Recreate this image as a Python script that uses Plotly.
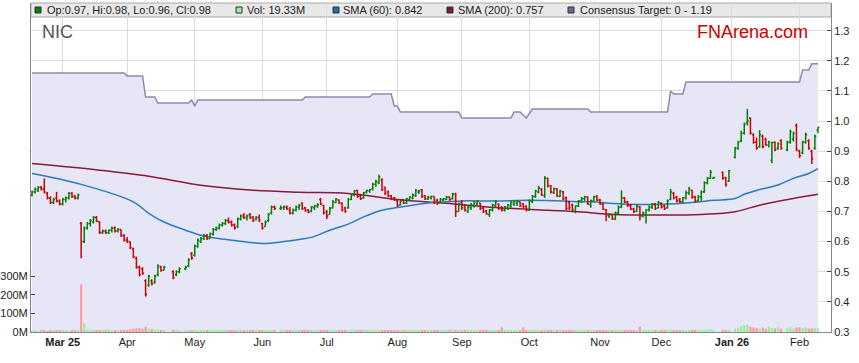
import pandas as pd
import plotly.graph_objects as go

# ---------------- data ----------------
holidays = ["2025-04-18", "2025-04-21", "2025-04-25", "2025-06-09",
            "2025-12-25", "2025-12-26", "2026-01-01", "2026-01-26"]
trade_days = [d for d in pd.bdate_range("2025-02-17", "2026-02-10")
              if d.strftime("%Y-%m-%d") not in holidays]

opens = [
    .755, .765, .770, .780, .775, .760, .745, .730, .745, .735,
    .725, .740, .745, .760, .750, .745, .660, .600, .645, .660, .665, .680, .665, .630, .635, .630, .638, .645, .635, .640, .620,
    .605, .600, .575, .545, .515, .510, .470, .455, .470, .465, .490, .515, .505, .500, .490, .500, .510, .520, .560,
    .555, .585, .600, .610, .620, .610, .625, .640, .645, .655, .660, .670, .665, .655, .650, .675, .685, .680, .690, .680, .675, .680,
    .660, .650, .670, .695, .715, .710, .712, .715, .705, .695, .705, .715, .728, .712, .705, .700, .712, .718, .740, .720,
    .700, .690, .712, .730, .738, .728, .712, .712, .740, .755, .770, .752, .745, .765, .768, .775, .790, .795, .805, .780, .765, .752, .745,
    .735, .722, .738, .728, .740, .745, .752, .765, .772, .752, .742, .745, .750, .738, .730, .738, .740, .748, .742, .758, .700,
    .730, .720, .700, .712, .718, .725, .728, .712, .702, .690, .705, .720, .725, .712, .705, .710, .718, .725, .728, .732, .725, .718,
    .705, .732, .750, .765, .775, .752, .810, .785, .762, .775, .750, .765, .745, .730, .722, .700, .718, .735, .742, .748, .722, .735, .750,
    .738, .725, .705, .685, .690, .675, .695, .715, .745, .732, .720, .708, .700, .715, .685, .690, .705, .715, .725, .712,
    .728, .718, .712, .740, .760, .748, .738, .732, .745, .762, .770, .748, .735, .748, .765, .795, .810, .810, .830, .812, .800,
    .880, .910, .935, .960, .995, 1.010, .955, .930, .915, .950, .940, .920, .870, .930, .910, .935, .905, .930, .940, .985,
    .900, .895, .930, .935, .900, .910, .970,
]
highs = [
    .770, .780, .785, .785, .810, .765, .750, .745, .765, .740,
    .745, .750, .765, .765, .755, .760, .665, .650, .665, .675, .685, .685, .668, .640, .640, .640, .650, .650, .645, .640, .625,
    .615, .600, .580, .550, .520, .515, .475, .490, .475, .490, .525, .520, .520, .505, .505, .515, .520, .545, .565,
    .590, .610, .615, .625, .625, .630, .645, .650, .660, .665, .675, .680, .670, .660, .680, .690, .695, .690, .695, .685, .685, .690,
    .662, .670, .695, .720, .720, .720, .720, .720, .715, .710, .720, .725, .730, .715, .708, .718, .722, .728, .745, .722,
    .705, .715, .738, .745, .740, .730, .716, .745, .760, .772, .772, .758, .765, .772, .775, .795, .805, .822, .810, .782, .770, .755, .748,
    .740, .738, .740, .745, .750, .760, .775, .772, .775, .755, .752, .752, .750, .742, .745, .745, .752, .750, .762, .762, .730,
    .738, .725, .720, .728, .735, .738, .728, .715, .705, .708, .726, .738, .726, .718, .718, .725, .735, .738, .738, .732, .728, .720,
    .740, .755, .772, .785, .778, .818, .812, .788, .780, .778, .772, .768, .750, .735, .726, .720, .738, .748, .752, .750, .740, .752, .755,
    .742, .728, .708, .695, .692, .700, .720, .770, .748, .735, .725, .712, .725, .718, .700, .708, .720, .728, .728, .735,
    .730, .722, .740, .775, .765, .752, .745, .748, .770, .782, .772, .752, .755, .770, .800, .815, .838, .815, .832, .815, .838,
    .915, .935, .968, .995, 1.040, 1.012, .960, .945, .970, .955, .945, .935, .932, .932, .930, .940, .935, .972, .965, .992,
    .905, .935, .962, .940, .905, .955, .980,
]
lows = [
    .750, .760, .765, .770, .760, .740, .725, .725, .730, .720,
    .720, .730, .740, .745, .740, .740, .545, .595, .640, .650, .660, .665, .625, .625, .625, .625, .630, .630, .630, .615, .600,
    .595, .575, .545, .510, .485, .490, .418, .450, .455, .460, .485, .500, .505, .475, .485, .495, .505, .515, .540,
    .550, .580, .595, .605, .605, .610, .620, .635, .640, .650, .655, .660, .650, .640, .645, .670, .675, .670, .675, .665, .670, .665,
    .640, .650, .665, .690, .705, .705, .705, .705, .690, .690, .700, .705, .705, .700, .694, .698, .705, .712, .722, .690,
    .675, .690, .710, .728, .725, .700, .696, .710, .738, .750, .745, .738, .742, .760, .762, .770, .782, .790, .768, .755, .748, .738, .735,
    .715, .720, .725, .725, .735, .740, .748, .758, .745, .738, .738, .740, .725, .722, .728, .735, .738, .735, .740, .682, .700,
    .705, .700, .695, .705, .712, .720, .705, .695, .690, .682, .700, .715, .705, .700, .700, .705, .712, .718, .718, .715, .712, .700,
    .702, .728, .745, .760, .752, .745, .780, .760, .758, .748, .748, .738, .705, .705, .702, .694, .715, .728, .735, .722, .712, .730, .735,
    .722, .705, .668, .678, .672, .672, .690, .712, .728, .715, .705, .695, .698, .670, .680, .660, .700, .708, .705, .710,
    .710, .705, .710, .738, .740, .730, .728, .728, .740, .755, .742, .730, .732, .735, .762, .790, .808, .808, .805, .782, .798,
    .876, .905, .930, .955, .985, .955, .925, .905, .912, .910, .918, .912, .860, .900, .905, .905, .900, .925, .932, .900,
    .878, .890, .925, .905, .858, .905, .960,
]
closes = [
    .765, .775, .780, .775, .765, .745, .730, .740, .735, .725,
    .740, .745, .760, .750, .745, .755, .600, .645, .660, .670, .680, .668, .630, .635, .630, .638, .645, .635, .640, .620, .605,
    .600, .580, .550, .515, .490, .495, .425, .485, .460, .485, .520, .505, .515, .480, .500, .510, .515, .540, .545,
    .585, .605, .610, .620, .610, .625, .640, .645, .655, .660, .670, .665, .655, .645, .675, .685, .680, .685, .680, .670, .680, .670,
    .645, .665, .690, .715, .710, .712, .715, .710, .695, .705, .715, .720, .710, .702, .698, .715, .718, .722, .725, .695,
    .685, .710, .732, .740, .728, .705, .700, .740, .755, .768, .750, .742, .762, .770, .772, .790, .800, .815, .772, .760, .752, .742, .738,
    .720, .735, .728, .742, .748, .755, .770, .768, .750, .742, .748, .750, .730, .728, .740, .742, .748, .740, .758, .700, .725,
    .712, .705, .715, .722, .730, .735, .710, .700, .692, .705, .722, .732, .710, .705, .715, .722, .730, .735, .732, .718, .715, .705,
    .735, .750, .768, .778, .755, .810, .785, .765, .775, .752, .768, .742, .710, .712, .706, .718, .735, .742, .748, .725, .735, .748, .738,
    .725, .708, .688, .690, .675, .695, .715, .745, .732, .720, .708, .700, .718, .685, .695, .705, .715, .725, .710, .730,
    .715, .710, .735, .765, .745, .735, .732, .745, .762, .775, .748, .735, .750, .765, .795, .810, .830, .813, .810, .790, .835,
    .910, .930, .960, .990, 1.000, .960, .930, .910, .955, .915, .922, .930, .928, .905, .925, .910, .930, .965, .960, .905,
    .885, .930, .955, .910, .875, .950, .980,
]
volume_m = [
    4, 6, 5, 7, 9, 5, 8, 6, 10, 7,
    8, 6, 5, 9, 7, 6, 258, 45, 12, 9, 11, 8, 10, 7, 9, 14, 8, 10, 6, 9, 12,
    10, 14, 18, 20, 22, 18, 28, 20, 16, 14, 12, 11, 8, 12, 9, 8, 10, 9, 11,
    10, 9, 8, 7, 9, 8, 10, 7, 6, 8, 7, 9, 10, 8, 7, 6, 8, 9, 7, 8, 6, 9,
    10, 8, 7, 9, 6, 7, 8, 6, 9, 7, 8, 6, 7, 9, 8, 6, 7, 8, 9, 10,
    8, 7, 6, 9, 7, 8, 6, 7, 9, 8, 6, 7, 10, 8, 9, 12, 8, 7, 9, 8, 7, 6, 8,
    7, 8, 6, 9, 7, 6, 8, 7, 9, 6, 7, 8, 6, 7, 8, 9, 7, 12, 14, 9, 7,
    8, 7, 9, 6, 7, 8, 9, 7, 6, 8, 7, 9, 8, 26, 7, 6, 9, 8, 7, 8, 24, 8,
    12, 10, 9, 11, 8, 14, 10, 9, 8, 7, 9, 10, 8, 12, 9, 8, 7, 10, 9, 6, 8, 7, 9,
    7, 8, 9, 12, 8, 7, 9, 10, 8, 7, 6, 9, 8, 28, 7, 8, 9, 7, 8, 6,
    8, 7, 9, 14, 8, 7, 9, 10, 8, 9, 12, 8, 9, 10, 11, 13, 16, 10, 12, 9, 8,
    18, 22, 30, 36, 40, 28, 25, 22, 20, 24, 18, 30, 22, 20, 25, 18, 22, 26, 20, 24,
    26, 22, 24, 18, 20, 22, 19.33,
]

sma60_dates = ["2025-02-17", "2025-03-11", "2025-04-03", "2025-04-10", "2025-04-17", "2025-04-28",
               "2025-05-05", "2025-05-12", "2025-05-20", "2025-06-02", "2025-06-11", "2025-06-18",
               "2025-06-24", "2025-07-02", "2025-07-10", "2025-07-17", "2025-07-25", "2025-08-01",
               "2025-08-08", "2025-08-18", "2025-08-25", "2025-09-01", "2025-09-16", "2025-10-01",
               "2025-10-16", "2025-10-24", "2025-10-30", "2025-11-06", "2025-11-14", "2025-12-01",
               "2025-12-15", "2025-12-24", "2026-01-02", "2026-01-07", "2026-01-14", "2026-01-22",
               "2026-01-29", "2026-02-05", "2026-02-10"]
sma60_vals = [0.826, 0.790, 0.732, 0.694, 0.665, 0.638, 0.621, 0.611, 0.604, 0.594, 0.600, 0.607,
              0.614, 0.638, 0.658, 0.682, 0.704, 0.713, 0.721, 0.729, 0.732, 0.735, 0.735, 0.737,
              0.735, 0.732, 0.732, 0.727, 0.724, 0.724, 0.730, 0.737, 0.743, 0.757, 0.773, 0.788,
              0.810, 0.826, 0.842]

sma200_dates = ["2025-02-17", "2025-03-19", "2025-04-10", "2025-05-05", "2025-05-27", "2025-06-18",
                "2025-07-10", "2025-08-01", "2025-08-25", "2025-09-16", "2025-10-09", "2025-10-24",
                "2025-11-06", "2025-12-01", "2025-12-18", "2026-01-02", "2026-01-14", "2026-01-29",
                "2026-02-10"]
sma200_vals = [0.859, 0.837, 0.817, 0.787, 0.771, 0.764, 0.760, 0.740, 0.727, 0.713, 0.704, 0.698,
               0.691, 0.688, 0.690, 0.699, 0.721, 0.743, 0.757]

target_dates = ["2025-02-17", "2025-03-31", "2025-04-01", "2025-04-08", "2025-04-09", "2025-04-14",
                "2025-04-15", "2025-04-29", "2025-04-30", "2025-05-01", "2025-05-02", "2025-06-19",
                "2025-06-20", "2025-07-21", "2025-07-22", "2025-07-30", "2025-07-31", "2025-08-01",
                "2025-08-04", "2025-08-29", "2025-09-01", "2025-09-23", "2025-09-24", "2025-09-26",
                "2025-09-30", "2025-10-02", "2025-10-28", "2025-10-29", "2025-12-03", "2025-12-04",
                "2025-12-05", "2025-12-10", "2025-12-11", "2026-02-02", "2026-02-03", "2026-02-05",
                "2026-02-06", "2026-02-10"]
target_vals = [1.16, 1.16, 1.15, 1.15, 1.08, 1.08, 1.06, 1.06, 1.07, 1.05, 1.07, 1.07,
               1.08, 1.08, 1.09, 1.09, 1.05, 1.05, 1.03, 1.03, 1.01, 1.01, 1.03, 1.03,
               1.01, 1.04, 1.04, 1.03, 1.03, 1.10, 1.09, 1.09, 1.13, 1.13, 1.17, 1.17,
               1.19, 1.19]

month_ticks = ["2025-03-03", "2025-04-01", "2025-05-01", "2025-06-02", "2025-07-01", "2025-08-01",
               "2025-09-01", "2025-10-01", "2025-11-03", "2025-12-01", "2026-01-01", "2026-02-02"]
month_labels = ["<b>Mar 25</b>", "Apr", "May", "Jun", "Jul", "Aug", "Sep", "Oct", "Nov", "Dec",
                "<b>Jan 26</b>", "Feb"]

n = len(trade_days)
for arr in (opens, highs, lows, closes, volume_m):
    assert len(arr) == n, (len(arr), n)

# ---------------- figure ----------------
half = pd.Timedelta(hours=12)
tick = pd.Timedelta(hours=11)
x_days = [d + half for d in trade_days]
to_x = lambda ds: [pd.Timestamp(d) + half for d in ds]

FONT = "Arial, 'Liberation Sans', sans-serif"
vol_colors = ["#99EE99" if c > o else ("#FF9999" if c < o else "#999999")
              for o, c in zip(opens, closes)]


def bar_paths(up):
    xs, ys = [], []
    for x, o, h, l, c in zip(x_days, opens, highs, lows, closes):
        if (c >= o) != up:
            continue
        xs += [x, x, None, x - tick, x, None, x, x + tick, None]
        ys += [l, h, None, o, o, None, c, c, None]
    return xs, ys


fig = go.Figure()
fig.add_trace(go.Scatter(x=to_x(target_dates), y=target_vals, mode="lines",
                         line=dict(color="#8A8AB2", width=1.5),
                         fill="tozeroy", fillcolor="#E6E6F6", hoverinfo="skip"))
fig.add_trace(go.Scatter(x=to_x(sma200_dates), y=sma200_vals, mode="lines",
                         line=dict(color="#8B1A3C", width=1.5, shape="spline")))
fig.add_trace(go.Scatter(x=to_x(sma60_dates), y=sma60_vals, mode="lines",
                         line=dict(color="#2A7CBD", width=1.5, shape="spline")))
ux, uy = bar_paths(True)
dx, dy = bar_paths(False)
fig.add_trace(go.Scatter(x=ux, y=uy, mode="lines", line=dict(color="#008000", width=1.5),
                         connectgaps=False))
fig.add_trace(go.Scatter(x=dx, y=dy, mode="lines", line=dict(color="#CC0000", width=1.5),
                         connectgaps=False))
fig.add_trace(go.Bar(x=x_days, y=[v * 1e6 for v in volume_m], marker_color=vol_colors,
                     marker_line_width=0, width=0.7 * 86400000, yaxis="y2"))

# plot area: x 31..831 px, y 3..332 px
PW, PH = 800.0, 329.0
px = lambda x: (x - 31) / PW
py = lambda y: (332 - y) / PH

shapes = [dict(type="rect", xref="paper", yref="paper", x0=0, x1=1, y0=py(17), y1=1,
               fillcolor="#E8E8E8", line=dict(color="#A8A8A8", width=1), layer="below")]
legend_items = [(35, 47, "#008000", "Op:0.97, Hi:0.98, Lo:0.96, Cl:0.98"),
                (236, 247, "#99EE99", "Vol: 19.33M"),
                (333, 343, "#1F6FAF", "SMA (60): 0.842"),
                (447, 458, "#7F1734", "SMA (200): 0.757"),
                (568, 580, "#6A6A9A", "Consensus Target: 0 - 1.19")]
annotations = []
for sx, tx, col, txt in legend_items:
    shapes.append(dict(type="rect", xref="paper", yref="paper", x0=px(sx), x1=px(sx + 6),
                       y0=py(13), y1=py(7), fillcolor=col, line=dict(color="#333333", width=1),
                       layer="above"))
    annotations.append(dict(xref="paper", yref="paper", x=px(tx - 2), y=py(10), xanchor="left",
                            yanchor="middle", text=txt, showarrow=False,
                            font=dict(family=FONT, size=11, color="#222222")))
annotations.append(dict(xref="paper", yref="paper", x=px(40), y=py(31.7), xanchor="left",
                        yanchor="middle", text="NIC", showarrow=False,
                        font=dict(family=FONT, size=18, color="#555555")))
annotations.append(dict(xref="paper", yref="paper", x=px(810), y=py(31.7), xanchor="right",
                        yanchor="middle", text="FNArena.com", showarrow=False,
                        font=dict(family=FONT, size=18, color="#CC0000")))

fig.update_layout(
    width=859, height=363, margin=dict(l=31, r=28, t=3, b=31),
    paper_bgcolor="white", plot_bgcolor="white", showlegend=False,
    font=dict(family=FONT, size=11, color="#222222"),
    shapes=shapes, annotations=annotations,
    xaxis=dict(type="date", range=["2025-02-17 04:00", "2026-02-16 18:00"],
               rangebreaks=[dict(bounds=["sat", "mon"])],
               tickvals=to_x(month_ticks), ticktext=month_labels,
               showgrid=True, gridcolor="#DCDCDC", gridwidth=1,
               showline=True, linecolor="#888888", linewidth=1, ticks="",
               tickfont=dict(family=FONT, size=11, color="#222222"),
               automargin=False, zeroline=False),
    yaxis=dict(side="right", range=[0.3, 1.392], tick0=0.3, dtick=0.1, tickformat=".1f",
               showgrid=True, gridcolor="#DCDCDC", gridwidth=1,
               ticks="inside", ticklen=4, tickcolor="#444444",
               showline=True, linecolor="#888888", linewidth=1,
               tickfont=dict(family=FONT, size=11, color="#222222"),
               automargin=False, zeroline=False),
    yaxis2=dict(overlaying="y", side="left", range=[0, 1.778e9],
                tickvals=[0, 1e8, 2e8, 3e8], ticktext=["0M", "100M", "200M", "300M"],
                showgrid=False, ticks="inside", ticklen=4, tickcolor="#444444",
                showline=True, linecolor="#888888", linewidth=1,
                tickfont=dict(family=FONT, size=11, color="#222222"),
                automargin=False, zeroline=False),
)

fig.write_html("out.html", config={"displayModeBar": False},
               post_script="document.body.style.margin='0';")
